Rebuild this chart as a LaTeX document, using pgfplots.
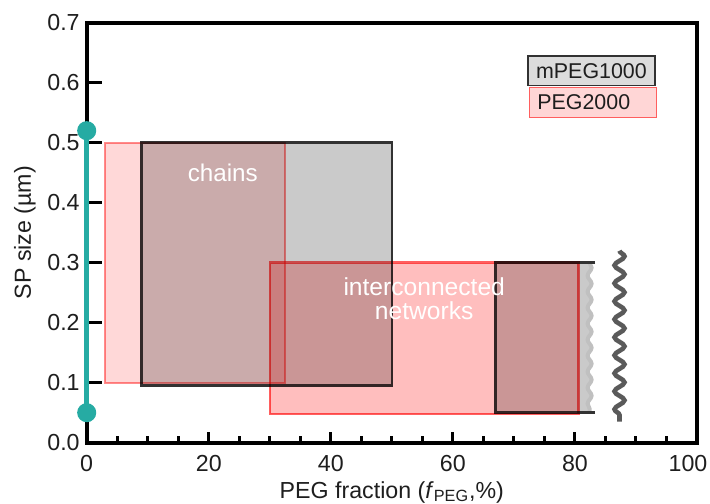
\documentclass[border=0pt]{standalone}
\usepackage{fontspec}
\setmainfont{Liberation Sans}
\usepackage{pgfplots}
\pgfplotsset{compat=1.18}
\usetikzlibrary{decorations.pathmorphing}
\definecolor{tealc}{RGB}{38,171,163}
\definecolor{grayfill}{RGB}{202,202,202}
\definecolor{grayedge}{RGB}{50,50,50}
\definecolor{pinkA}{RGB}{255,216,216}
\definecolor{pinkAedge}{RGB}{255,140,140}
\definecolor{pinkB}{RGB}{255,190,190}
\definecolor{pinkBedge}{RGB}{255,95,95}
\definecolor{wavegray}{RGB}{90,90,90}
\definecolor{lightwave}{RGB}{192,192,192}
\definecolor{legendgray}{RGB}{220,220,220}
\definecolor{legendpink}{RGB}{255,214,214}
\definecolor{txt}{RGB}{30,30,30}
\begin{document}
\begin{tikzpicture}[font=\fontsize{11.6pt}{13.5pt}\selectfont]
\begin{axis}[
  name=ax,
  scale only axis,
  width=305.15pt, height=210pt,
  xmin=0, xmax=100, ymin=0, ymax=0.7,
  clip=false,
  axis line style={line width=2pt, black},
  xtick={0,20,40,60,80,100},
  xticklabels={0,20,40,60,80,\hspace*{-9pt}100},
  minor x tick num=3,
  ytick={0,0.1,0.2,0.3,0.4,0.5,0.6,0.7},
  tick pos=left, tick align=inside,
  major tick length=5.5pt, minor tick length=3.5pt,
  every tick/.style={line width=1.5pt, black},
  ytick style={/pgfplots/major tick length=7.5pt},
  /pgf/number format/assume math mode=true,
  yticklabel style={/pgf/number format/.cd, fixed, fixed zerofill, precision=1},
  ticklabel style={text=txt},
  xticklabel style={yshift=-3pt},
  xlabel={PEG fraction (\textit{f}\textsubscript{PEG},\%)},
  ylabel={SP size (µm)},
  xlabel style={at={(axis description cs:0.5,-0.1324)}, anchor=base, text=txt},
  ylabel style={at={(axis description cs:-0.0916,0.5)}, anchor=base, text=txt},
]
% mPEG1000 chains
\addplot[fill=grayfill, draw=grayedge, line width=1.2pt] coordinates {(9,0.095) (50,0.095) (50,0.5) (9,0.5)} -- cycle;
% mPEG1000 networks
\addplot[fill=grayfill, draw=none] coordinates {(67,0.05) (82.4,0.05) (82.4,0.3) (67,0.3)} -- cycle;
\addplot[lightwave, line width=2pt, decorate, decoration={snake, amplitude=1pt, segment length=8pt}] coordinates {(82.4,0.3) (82.4,0.05)};
\addplot[grayedge, line width=1.2pt] coordinates {(83.3,0.3) (67,0.3) (67,0.05) (83.3,0.05)};
% PEG2000 chains
\addplot[fill=pinkA, draw=pinkAedge, line width=1pt, blend mode=multiply] coordinates {(3,0.1) (32.5,0.1) (32.5,0.5) (3,0.5)} -- cycle;
% PEG2000 networks
\addplot[fill=pinkB, draw=pinkBedge, line width=1.2pt, blend mode=multiply] coordinates {(30,0.048) (80.6,0.048) (80.6,0.3) (30,0.3)} -- cycle;
% break mark
\addplot[wavegray, line width=2.3pt, decorate, decoration={snake, amplitude=2.5pt, segment length=9pt}] coordinates {(87.3,0.32) (87.3,0.035)};
% teal range
\addplot[tealc, line width=2.5pt, mark=*, mark size=3.5pt, mark options={fill=tealc, draw=tealc}] coordinates {(0,0.05) (0,0.52)};
% labels
\node[white, anchor=base, font=\fontsize{12.1pt}{14pt}\selectfont] at (axis cs:22.3,0.435) {chains};
\node[white, anchor=base, font=\fontsize{12.3pt}{14pt}\selectfont] at (axis cs:55.3,0.245) {interconnected};
\node[white, anchor=base, font=\fontsize{12.3pt}{14pt}\selectfont] at (axis cs:55.3,0.205) {networks};
\node[draw=grayedge, fill=legendgray, line width=0.8pt, anchor=west, minimum height=14.85pt, inner xsep=4pt, text width=55.5pt, align=left, font=\fontsize{10.7pt}{12pt}\selectfont, text=txt] at (axis cs:72.2,0.62) {mPEG1000};
\node[draw=pinkBedge, fill=legendpink, line width=0.8pt, anchor=west, minimum height=14.85pt, inner xsep=4pt, text width=55.5pt, align=left, font=\fontsize{10.7pt}{12pt}\selectfont, text=txt] at (axis cs:72.4,0.567) {PEG2000};
\end{axis}
\pgfresetboundingbox
\path ([shift={(-43.35pt,-30.65pt)}]ax.south west) rectangle ([shift={(6.5pt,11.35pt)}]ax.north east);
\end{tikzpicture}
\end{document}
